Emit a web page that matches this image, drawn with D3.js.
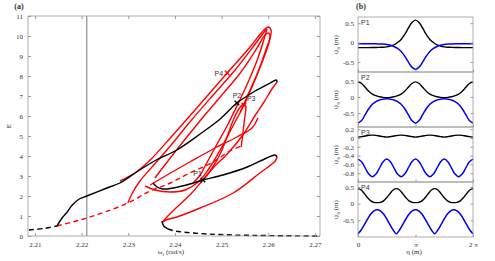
<!DOCTYPE html>
<html>
<head>
<meta charset="utf-8">
<script src="https://cdn.jsdelivr.net/npm/d3@7"></script>
<style>
body { margin: 0; background: #fff; }
svg { display: block; }
text { font-family: "Liberation Serif", "Times New Roman", serif; fill: #333; }
</style>
</head>
<body>
<svg id="chart" width="495" height="261"></svg>
<script>
// ---- panel (a): branches as [omega_f, E] ----
var blackUpper = [[2.2147,0.5],[2.2158,0.9],[2.2169,1.2],[2.2180,1.55],[2.2195,1.85],[2.2211,2.0],[2.2254,2.4],[2.2282,2.65],[2.2321,3.25],[2.2360,3.8],[2.2404,4.3],[2.2454,5.1],[2.2497,5.85],[2.2533,6.65],[2.2572,7.25],[2.2604,7.65],[2.2617,7.8],[2.2619,7.7]]
var blackLower = [[2.2353,2.65],[2.2362,2.45],[2.2374,2.35],[2.2396,2.4],[2.2432,2.6],[2.2460,2.8],[2.2503,3.05],[2.2555,3.45],[2.2597,3.9],[2.2615,4.05],[2.2619,3.95]]
var blackFold = [[2.2372,0.75],[2.2376,0.5],[2.2385,0.35]]
var blackDashed1 = [[2.2087,0.3],[2.2120,0.38],[2.2147,0.5]]
var blackDashed2 = [[2.2385,0.35],[2.2400,0.25],[2.2430,0.17],[2.2470,0.1],[2.2530,0.05],[2.2600,0.02],[2.2711,0.0]]
var redDashed = [[2.2147,0.5],[2.2180,0.7],[2.2211,0.9],[2.2250,1.2],[2.2299,1.65],[2.2347,2.25],[2.2390,2.65],[2.2432,3.15],[2.2482,3.7],[2.2514,4.2],[2.2542,4.5]]
var redLoops = [
  [[2.2282,2.75],[2.2314,3.15],[2.2347,3.8],[2.2390,4.9],[2.2443,6.3],[2.2512,8.15],[2.2561,9.45],[2.2587,10.2],[2.2600,10.45],[2.2606,10.3],[2.2602,9.7],[2.2587,8.7],[2.2567,7.55],[2.2546,6.45],[2.2522,5.4],[2.2497,4.3],[2.2471,3.3],[2.2450,2.7],[2.2422,2.3],[2.2390,2.2],[2.2357,2.3],[2.2336,2.5]],
  [[2.2299,1.65],[2.2310,2.2],[2.2325,2.75],[2.2347,3.35],[2.2390,4.5],[2.2432,5.7],[2.2480,7.0],[2.2529,8.3],[2.2572,9.6],[2.2593,10.25],[2.2597,10.35],[2.2593,10.0],[2.2578,8.9],[2.2557,7.7],[2.2535,6.6],[2.2514,5.6],[2.2488,4.5],[2.2467,3.6],[2.2454,3.05],[2.2439,2.65]],
  [[2.2357,2.9],[2.2400,4.2],[2.2450,5.65],[2.2497,6.95],[2.2540,8.15],[2.2576,9.4],[2.2593,10.05],[2.2600,10.15],[2.2604,10.0],[2.2595,9.3],[2.2578,8.2],[2.2561,7.3],[2.2540,6.2]],
  [[2.2619,7.7],[2.2608,7.35],[2.2591,6.7],[2.2574,6.1],[2.2544,5.0],[2.2514,4.15],[2.2482,3.4],[2.2460,2.8],[2.2432,2.05],[2.2400,1.35],[2.2381,0.9],[2.2374,0.7]],
  [[2.2619,3.95],[2.2615,3.75],[2.2582,3.15],[2.2525,2.15],[2.2454,1.4],[2.2404,0.95],[2.2381,0.8],[2.2374,0.7]],
  [[2.2542,4.45],[2.2546,5.2],[2.2550,6.0],[2.2552,6.45],[2.2548,6.6],[2.2540,6.45],[2.2527,5.9],[2.2514,5.1],[2.2499,4.2],[2.2480,3.4],[2.2460,2.8]],
  [[2.2347,2.55],[2.2383,3.05],[2.2432,3.7],[2.2486,4.4],[2.2533,4.95],[2.2565,5.4],[2.2578,5.9]]
]
var points = [
  {name: "P1", w: 2.2460, e: 2.8, color: "#000"},
  {name: "P2", w: 2.2533, e: 6.65, color: "#000"},
  {name: "P3", w: 2.2548, e: 6.55, color: "#f00"},
  {name: "P4", w: 2.2512, e: 8.15, color: "#f00"}
]
var omegaTicks = [2.21, 2.22, 2.23, 2.24, 2.25, 2.26, 2.27]
var eTicks = [0,1,2,3,4,5,6,7,8,9,10,11]
var omegaMark = 2.2211

// ---- panel (b): profiles over eta ----
var etaA = [0,0.196,0.393,0.589,0.785,0.982,1.178,1.374,1.571,1.767,1.963,2.160,2.356,2.553,2.749,2.945,3.142,3.338,3.534,3.731,3.927,4.123,4.320,4.516,4.712,4.909,5.105,5.301,5.498,5.694,5.890,6.087,6.283]
var etaB = [0,0.175,0.349,0.524,0.698,0.873,1.047,1.222,1.396,1.571,1.745,1.920,2.094,2.269,2.443,2.618,2.793,2.967,3.142,3.316,3.491,3.665,3.840,4.014,4.189,4.363,4.538,4.712,4.887,5.061,5.236,5.411,5.585,5.760,5.934,6.109,6.283]
var p1Black = [-0.13,-0.13,-0.13,-0.13,-0.128,-0.126,-0.123,-0.12,-0.11,-0.09,-0.06,0.0,0.08,0.21,0.37,0.52,0.58,0.52,0.37,0.21,0.08,0.0,-0.06,-0.09,-0.11,-0.12,-0.123,-0.126,-0.128,-0.13,-0.13,-0.13,-0.13]
var p1Blue = [-0.03,-0.03,-0.03,-0.03,-0.03,-0.033,-0.036,-0.04,-0.05,-0.07,-0.10,-0.15,-0.23,-0.35,-0.50,-0.635,-0.69,-0.635,-0.50,-0.35,-0.23,-0.15,-0.10,-0.07,-0.05,-0.04,-0.036,-0.033,-0.03,-0.03,-0.03,-0.03,-0.03]
var p2Black = [0.47,0.42,0.30,0.18,0.09,0.04,0.005,-0.012,-0.02,-0.012,0.005,0.04,0.09,0.18,0.30,0.42,0.47,0.42,0.30,0.18,0.09,0.04,0.005,-0.012,-0.02,-0.012,0.005,0.04,0.09,0.18,0.30,0.42,0.47]
var p2Blue = [-0.82,-0.74,-0.555,-0.37,-0.23,-0.145,-0.095,-0.07,-0.055,-0.07,-0.095,-0.145,-0.23,-0.37,-0.555,-0.74,-0.82,-0.74,-0.555,-0.37,-0.23,-0.145,-0.095,-0.07,-0.055,-0.07,-0.095,-0.145,-0.23,-0.37,-0.555,-0.74,-0.82]
var p3Black = [0.02,0.03,0.045,0.06,0.065,0.06,0.045,0.03,0.02,0.03,0.045,0.06,0.065,0.06,0.045,0.03,0.02,0.03,0.045,0.06,0.065,0.06,0.045,0.03,0.02,0.03,0.045,0.06,0.065,0.06,0.045,0.03,0.02]
var p3Blue = [-0.48,-0.54,-0.68,-0.82,-0.88,-0.82,-0.68,-0.54,-0.48,-0.54,-0.68,-0.82,-0.88,-0.82,-0.68,-0.54,-0.48,-0.54,-0.68,-0.82,-0.88,-0.82,-0.68,-0.54,-0.48,-0.54,-0.68,-0.82,-0.88,-0.82,-0.68,-0.54,-0.48]
var p4Black = [0.45,0.41,0.30,0.18,0.085,0.04,0.03,0.04,0.085,0.18,0.30,0.41,0.45,0.41,0.30,0.18,0.085,0.04,0.03,0.04,0.085,0.18,0.30,0.41,0.45,0.41,0.30,0.18,0.085,0.04,0.03,0.04,0.085,0.18,0.30,0.41,0.45]
var p4Blue = [-0.9,-0.79,-0.63,-0.46,-0.31,-0.215,-0.18,-0.215,-0.31,-0.46,-0.63,-0.79,-0.9,-0.79,-0.63,-0.46,-0.31,-0.215,-0.18,-0.215,-0.31,-0.46,-0.63,-0.79,-0.9,-0.79,-0.63,-0.46,-0.31,-0.215,-0.18,-0.215,-0.31,-0.46,-0.63,-0.79,-0.9]
var profiles = [
  {name: "P1", eta: etaA, black: p1Black, blue: p1Blue, domain: [-0.76, 0.66], ticks: [-0.5, 0, 0.5]},
  {name: "P2", eta: etaA, black: p2Black, blue: p2Blue, domain: [-0.94, 0.78], ticks: [-0.5, 0, 0.5]},
  {name: "P3", eta: etaA, black: p3Black, blue: p3Blue, domain: [-1.0, 0.25], ticks: [-0.8, -0.6, -0.4, -0.2, 0, 0.2]},
  {name: "P4", eta: etaB, black: p4Black, blue: p4Blue, domain: [-1.0, 0.65], ticks: [-0.5, 0, 0.5]}
]
var etaTicks = [0, Math.PI, 2 * Math.PI]
var etaTickLabels = ["0", "\u03c0", "2 \u03c0"]

var svg = d3.select("#chart")
var boxColor = "#9a9a9a"

// ===== panel (a) =====
var x = d3.scaleLinear().domain([2.2085, 2.2711]).range([28, 320])
var y = d3.scaleLinear().domain([0, 11]).range([236, 16])
var gA = svg.append("g")

gA.append("line")
  .attr("x1", x(omegaMark)).attr("x2", x(omegaMark))
  .attr("y1", y(11)).attr("y2", y(0))
  .attr("stroke", "#999").attr("stroke-width", 1.3)

var lineA = d3.line()
  .x(function(d) { return x(d[0]) })
  .y(function(d) { return y(d[1]) })
  .curve(d3.curveCatmullRom.alpha(0.5))

function drawA(data, color, dashed) {
  gA.append("path")
    .attr("d", lineA(data))
    .attr("fill", "none")
    .attr("stroke", color)
    .attr("stroke-width", 1.4)
    .attr("stroke-dasharray", dashed ? "5,3.5" : null)
}

drawA(redDashed, "#f00", true)
redLoops.forEach(function(r) { drawA(r, "#f00", false) })
drawA(blackDashed1, "#000", true)
drawA(blackDashed2, "#000", true)
drawA(blackFold, "#000", false)
drawA(blackUpper, "#000", false)
drawA(blackLower, "#000", false)

points.forEach(function(p) {
  var cx = x(p.w), cy = y(p.e), s = 2.3
  gA.append("path")
    .attr("d", "M" + (cx - s) + "," + (cy - s) + "L" + (cx + s) + "," + (cy + s) +
               "M" + (cx - s) + "," + (cy + s) + "L" + (cx + s) + "," + (cy - s))
    .attr("stroke", p.color).attr("stroke-width", 1.3)
})
var labelPos = {P1: [-1, -4, "end"], P2: [0, -5, "middle"], P3: [3, -4, "start"], P4: [-4, 3, "end"]}
points.forEach(function(p) {
  var lp = labelPos[p.name]
  gA.append("text")
    .attr("x", x(p.w) + lp[0]).attr("y", y(p.e) + lp[1])
    .attr("text-anchor", lp[2])
    .style("font-family", "'Liberation Sans', Arial, sans-serif")
    .style("font-size", "7px")
    .text(p.name)
})

// box and ticks
gA.append("rect")
  .attr("x", 28).attr("y", 16).attr("width", 292).attr("height", 220)
  .attr("fill", "none").attr("stroke", boxColor).attr("stroke-width", 0.8)

var axB = gA.append("g").attr("transform", "translate(0,236)")
  .call(d3.axisBottom(x).tickValues(omegaTicks).tickSize(-3).tickPadding(6).tickFormat(d3.format(".2f")))
var axT = gA.append("g").attr("transform", "translate(0,16)")
  .call(d3.axisTop(x).tickValues(omegaTicks).tickSize(-3).tickFormat(""))
var axL = gA.append("g").attr("transform", "translate(28,0)")
  .call(d3.axisLeft(y).tickValues(eTicks).tickSize(-3).tickPadding(5).tickFormat(d3.format("d")))
var axR = gA.append("g").attr("transform", "translate(320,0)")
  .call(d3.axisRight(y).tickValues(eTicks).tickSize(-3).tickFormat(""))
;[axB, axT, axL, axR].forEach(function(a) {
  a.select(".domain").remove()
  a.selectAll("line").attr("stroke", boxColor)
  a.selectAll("text").style("font-family", "'Liberation Serif', serif").style("font-size", "7px").attr("fill", "#333")
})

gA.append("text").attr("x", 19).attr("y", 9)
  .style("font-weight", "bold").style("font-size", "8px").attr("text-anchor", "middle").attr("fill", "#000").text("(a)")
gA.append("text")
  .attr("transform", "translate(11,126) rotate(-90)")
  .attr("text-anchor", "middle").style("font-size", "7px").text("E")
var xl = gA.append("text").attr("x", 171).attr("y", 254).attr("text-anchor", "middle").style("font-size", "7px")
xl.append("tspan").text("\u03c9")
xl.append("tspan").attr("dy", 2).style("font-size", "5px").text("f")
xl.append("tspan").attr("dy", -2).text(" (rad/s)")

// ===== panel (b) =====
var xb = d3.scaleLinear().domain([0, 2 * Math.PI]).range([358, 473])
var gB = svg.append("g")
var rowTop = 17, rowH = 55

profiles.forEach(function(p, i) {
  var top = rowTop + i * rowH, bot = top + rowH
  var yb = d3.scaleLinear().domain(p.domain).range([bot, top])
  var g = gB.append("g")
  var lineB = d3.line()
    .x(function(d, j) { return xb(p.eta[j]) })
    .y(function(d) { return yb(d) })
    .curve(d3.curveCatmullRom.alpha(0.5))

  g.append("path").attr("d", lineB(p.black)).attr("fill", "none").attr("stroke", "#000").attr("stroke-width", 1.4)
  g.append("path").attr("d", lineB(p.blue)).attr("fill", "none").attr("stroke", "#0000f5").attr("stroke-width", 1.5)

  g.append("rect").attr("x", 358).attr("y", top).attr("width", 115).attr("height", rowH)
    .attr("fill", "none").attr("stroke", boxColor).attr("stroke-width", 0.8)

  var aL = g.append("g").attr("transform", "translate(358,0)")
    .call(d3.axisLeft(yb).tickValues(p.ticks).tickSize(-2.5).tickPadding(4).tickFormat(function(d) { return String(d) }))
  var aR = g.append("g").attr("transform", "translate(473,0)")
    .call(d3.axisRight(yb).tickValues(p.ticks).tickSize(-2.5).tickFormat(""))
  var aBt = g.append("g").attr("transform", "translate(0," + bot + ")")
    .call(d3.axisBottom(xb).tickValues(etaTicks).tickSize(-2.5).tickPadding(5)
      .tickFormat(function(d, j) { return i === 3 ? etaTickLabels[j] : "" }))
  ;[aL, aR, aBt].forEach(function(a) {
    a.select(".domain").remove()
    a.selectAll("line").attr("stroke", boxColor)
    a.selectAll("text").style("font-family", "'Liberation Serif', serif").style("font-size", "7px").attr("fill", "#333")
  })

  g.append("text").attr("x", 361).attr("y", top + 8)
    .style("font-family", "'Liberation Sans', Arial, sans-serif").style("font-size", "7px").text(p.name)

  var yl = g.append("text")
    .attr("transform", "translate(338," + (top + rowH / 2) + ") rotate(-90)")
    .attr("text-anchor", "middle").style("font-size", "7px")
  yl.append("tspan").text("\u03c8")
  yl.append("tspan").attr("dy", 2).style("font-size", "5px").text("0")
  yl.append("tspan").attr("dy", -2).text(" (m)")
})

gB.append("text").attr("x", 361).attr("y", 9)
  .style("font-weight", "bold").style("font-size", "8px").attr("text-anchor", "middle").attr("fill", "#000").text("(b)")
gB.append("text").attr("x", 414).attr("y", 254).attr("text-anchor", "middle").style("font-size", "7px").text("\u03b7 (m)")
</script>
</body>
</html>
